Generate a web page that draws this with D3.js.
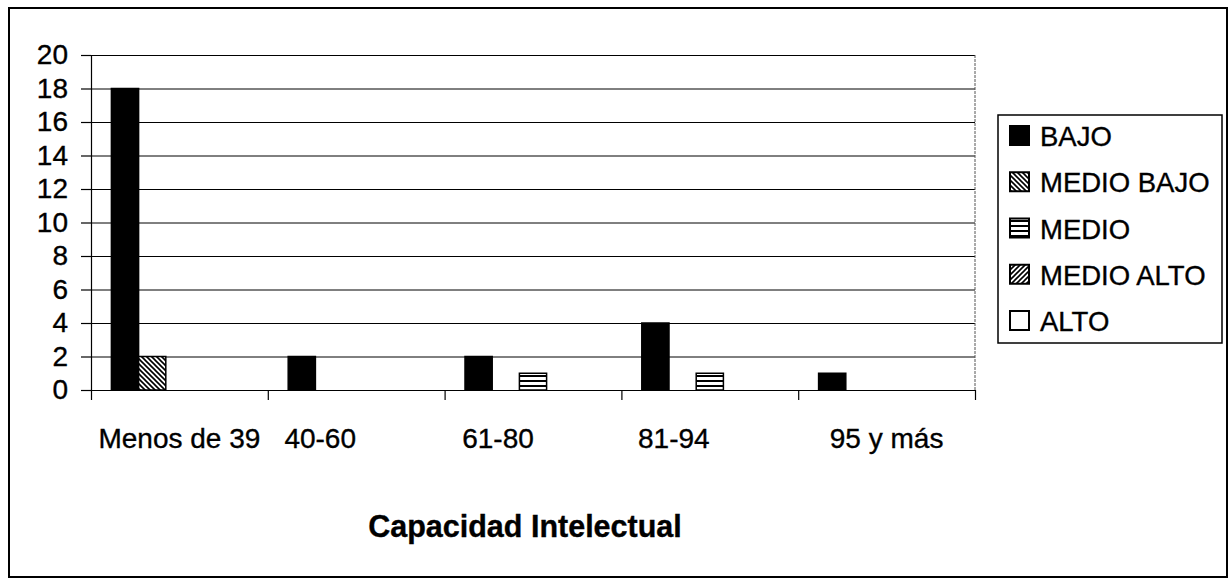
<!DOCTYPE html>
<html>
<head>
<meta charset="utf-8">
<script src="https://cdn.jsdelivr.net/npm/d3@7"></script>
<style>
  html, body { margin: 0; padding: 0; background: #fff; }
  svg { display: block; }
  text { font-family: "Liberation Sans", Arial, sans-serif; fill: #000; stroke: #000; stroke-width: 0.35px; }
</style>
</head>
<body>
<svg id="chart" width="1231" height="579"></svg>
<script>
// Categories of intellectual capacity (x axis)
const categories = ["Menos de 39", "40-60", "61-80", "81-94", "95 y más"];
// Series (legend entries)
const seriesNames = ["BAJO", "MEDIO BAJO", "MEDIO", "MEDIO ALTO", "ALTO"];
// Counts per series, one value per category
const bajo       = [18, 2, 2, 4, 1];
const medioBajo  = [2, 0, 0, 0, 0];
const medio      = [0, 0, 1, 1, 0];
const medioAlto  = [0, 0, 0, 0, 0];
const alto       = [0, 0, 0, 0, 0];
const seriesValues = [bajo, medioBajo, medio, medioAlto, alto];
// Y axis ticks
const yTicks = [0, 2, 4, 6, 8, 10, 12, 14, 16, 18, 20];
const xTitle = "Capacidad Intelectual";

const svg = d3.select("#chart");

// fill patterns for the series
const defs = svg.append("defs");
function pattern(id, draw) {
  const p = defs.append("pattern").attr("id", id)
    .attr("patternUnits", "userSpaceOnUse").attr("width", 5).attr("height", 5);
  p.append("rect").attr("width", 5).attr("height", 5).attr("fill", "#fff");
  draw(p);
}
pattern("pBack", p => p.append("path").attr("d", "M-1,-1 L6,6 M-1,4 L1,6 M4,-1 L6,1")
  .attr("stroke", "#000").attr("stroke-width", 1.6));
pattern("pHoriz", p => p.append("rect").attr("x", 0).attr("y", 0).attr("width", 5).attr("height", 2).attr("fill", "#000"));
pattern("pFwd", p => p.append("path").attr("d", "M-1,6 L6,-1 M-1,1 L1,-1 M4,6 L6,4")
  .attr("stroke", "#000").attr("stroke-width", 1.6));
const fills = ["#000", "url(#pBack)", "url(#pHoriz)", "url(#pFwd)", "#fff"];

// outer chart frame
svg.append("rect").attr("x", 9).attr("y", 8).attr("width", 1218).attr("height", 569)
  .attr("fill", "none").attr("stroke", "#000").attr("stroke-width", 2);

const plot = { left: 91, right: 975, top: 55, bottom: 390 };

const y = d3.scaleLinear().domain([0, 20]).range([plot.bottom, plot.top]);
const x = d3.scaleBand().domain(categories).range([plot.left, plot.right]).padding(0);
const xs = d3.scaleBand().domain(seriesNames).range([0, x.bandwidth()])
  .paddingInner(0).paddingOuter(0.75);
const xEdge = d3.scaleLinear().domain([0, categories.length]).range([plot.left, plot.right]);

// horizontal gridlines
svg.append("g").attr("transform", `translate(${plot.left},0)`)
  .call(d3.axisLeft(y).tickValues(yTicks).tickSize(-(plot.right - plot.left)).tickFormat(""))
  .call(g => g.select(".domain").remove())
  .call(g => g.selectAll("line").attr("stroke", "#000").attr("stroke-width", 1));

// right edge of the plot area
svg.append("line").attr("x1", plot.right).attr("x2", plot.right)
  .attr("y1", plot.top).attr("y2", plot.bottom)
  .attr("stroke", "#555").attr("stroke-width", 1).attr("stroke-dasharray", "3,1");

// bars
seriesNames.forEach((s, si) => {
  svg.append("g").selectAll("rect")
    .data(seriesValues[si].map((v, ci) => ({ c: categories[ci], v })))
    .join("rect")
    .attr("x", d => x(d.c) + xs(s))
    .attr("y", d => y(d.v))
    .attr("width", xs.bandwidth())
    .attr("height", d => y(0) - y(d.v))
    .attr("fill", fills[si])
    .attr("stroke", "#000").attr("stroke-width", d => d.v > 0 ? 1.5 : 0);
});

// y axis
svg.append("g").attr("transform", `translate(${plot.left},0)`)
  .call(d3.axisLeft(y).tickValues(yTicks).tickSize(10).tickPadding(13))
  .call(g => g.selectAll("line, path").attr("stroke", "#000").attr("stroke-width", 1.2))
  .call(g => g.selectAll("text").attr("font-size", 28).attr("font-family", null).style("fill", "#000"));

// x axis with ticks between categories
svg.append("g").attr("transform", `translate(0,${plot.bottom})`)
  .call(d3.axisBottom(xEdge).tickValues(d3.range(categories.length + 1)).tickSize(10).tickFormat("").tickSizeOuter(0))
  .call(g => g.selectAll("line, path").attr("stroke", "#000").attr("stroke-width", 1.2));

// category labels; the inner three sit left of their band centre
const labelShift = [0, -36, -35, -36, 0];
svg.append("g").selectAll("text").data(categories).join("text")
  .attr("x", (d, i) => x(d) + x.bandwidth() / 2 + labelShift[i])
  .attr("y", 448)
  .attr("text-anchor", "middle")
  .attr("font-size", 28)
  .text(d => d);

// x axis title
svg.append("text").attr("x", 525).attr("y", 537)
  .attr("text-anchor", "middle").attr("font-size", 30.5).attr("font-weight", "bold")
  .text(xTitle);

// legend
const lg = svg.append("g");
lg.append("rect").attr("x", 998).attr("y", 115).attr("width", 224).attr("height", 228)
  .attr("fill", "#fff").attr("stroke", "#000").attr("stroke-width", 1.5);
const ly = d3.scalePoint().domain(seriesNames).range([136, 321]);
seriesNames.forEach((s, i) => {
  lg.append("rect").attr("x", 1010).attr("y", ly(s) - 10).attr("width", 19).attr("height", 19)
    .attr("fill", fills[i]).attr("stroke", "#000").attr("stroke-width", 2);
  lg.append("text").attr("x", 1040).attr("y", ly(s) + 10).attr("font-size", 27.5).text(s);
});
</script>
</body>
</html>
